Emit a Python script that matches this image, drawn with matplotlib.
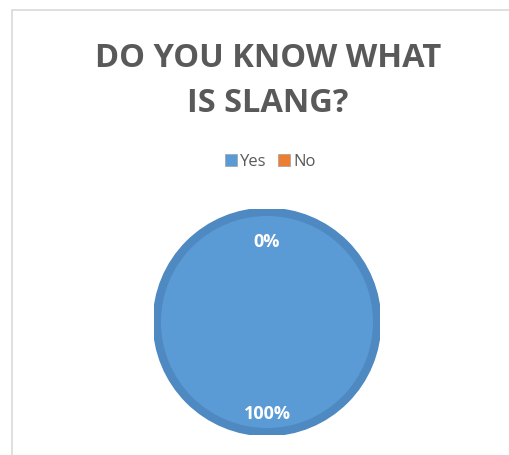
import matplotlib

matplotlib.use("Agg")
import matplotlib.pyplot as plt
from matplotlib.patches import Circle, Patch, Rectangle

categories = ["Yes", "No"]
values = [100, 0]
colors = ["#5b9bd5", "#ed7d31"]
title = "DO YOU KNOW WHAT\nIS SLANG?"

W, H = 510, 455
fig = plt.figure(figsize=(W / 100, H / 100), dpi=100)
plt.rcParams["font.family"] = ["Open Sans", "DejaVu Sans"]

# chart-area border, open on the right and bottom edges
fig.patches.append(Rectangle((12 / W, -0.1), 1.2, 1 - 10 / H + 0.1,
                             transform=fig.transFigure, fill=False,
                             edgecolor="#d9d9d9", linewidth=1.2))

fig.text(268 / W, 1 - 81 / H, title, ha="center", va="center",
         fontsize=23.5, fontweight="bold", color="#595959", linespacing=1.45)

# pie area: centre (267, 322), radius ~113 px
r = 113
ax = fig.add_axes([(267 - r) / W, 1 - (322 + r) / H, 2 * r / W, 2 * r / H])
wedges, _, autotexts = ax.pie(
    values, colors=colors, startangle=90, counterclock=False,
    autopct="%.0f%%", pctdistance=0.76,
    wedgeprops=dict(linewidth=0),
)
# darker rim around the full slice
ax.add_patch(Circle((0, 0), 0.975, fill=False, edgecolor="#4f89c1", linewidth=6))
for t in autotexts:
    x, y = t.get_position()
    t.set_position((x, y - 0.05))  # glyphs sit slightly lower than the centre line
    t.set_color("white")
    t.set_fontweight("bold")
    t.set_fontsize(13)
    t.set_zorder(5)
ax.set_xlim(-1, 1)
ax.set_ylim(-1, 1)
ax.set_aspect("equal")
ax.axis("off")

handles = [Patch(facecolor=c, edgecolor="#a0a0a0", linewidth=0.5) for c in colors]
fig.legend(handles=handles, labels=categories, loc="center",
           bbox_to_anchor=(270 / W, 1 - 162 / H), ncol=2, frameon=False,
           fontsize=12, handlelength=0.75, handleheight=0.75,
           handletextpad=0.15, columnspacing=0.7, labelcolor="#595959")

fig.savefig("out.png", dpi=100, facecolor="white")
